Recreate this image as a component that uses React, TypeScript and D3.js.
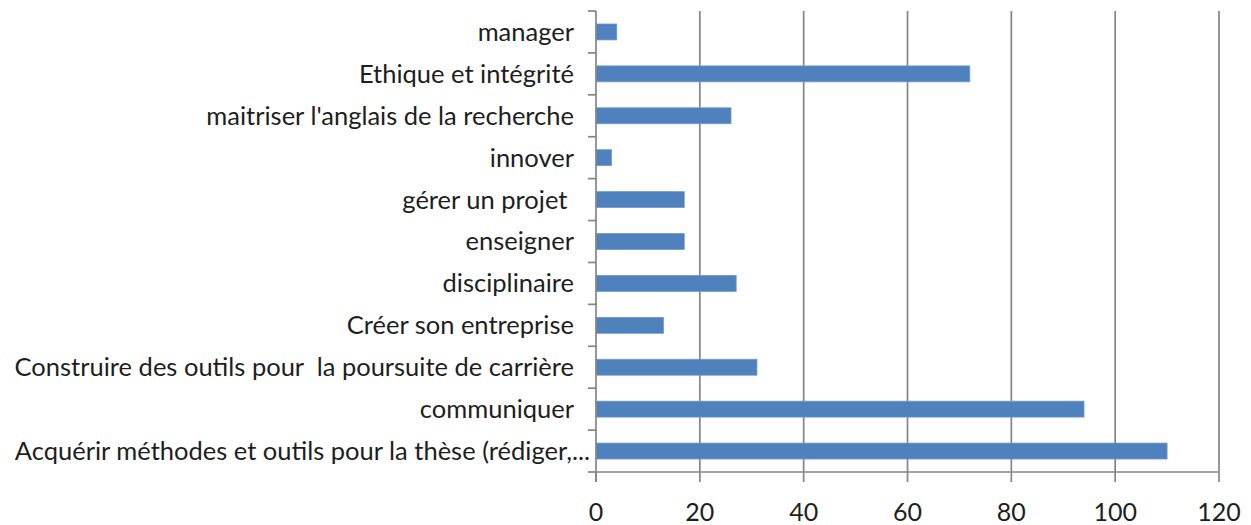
import { scaleBand, scaleLinear } from "d3";

const CATEGORIES = [
  "manager",
  "Ethique et intégrité",
  "maitriser l'anglais de la recherche",
  "innover",
  "gérer un projet ",
  "enseigner",
  "disciplinaire",
  "Créer son entreprise",
  "Construire des outils pour  la poursuite de carrière",
  "communiquer",
  "Acquérir méthodes et outils pour la thèse (rédiger,...",
];
const VALUES = [4, 72, 26, 3, 17, 17, 27, 13, 31, 94, 110];
const X_TICKS = [0, 20, 40, 60, 80, 100, 120];

const WIDTH = 1251;
const HEIGHT = 525;
const LEFT = 596;
const RIGHT = 1219;
const TOP = 11;
const BOTTOM = 472;
const GRID = "#858585";
const FONT = "Lato, 'Open Sans', sans-serif";

export default function App() {
  const x = scaleLinear().domain([0, 120]).range([LEFT, RIGHT]);
  const y = scaleBand<string>()
    .domain(CATEGORIES)
    .range([TOP, BOTTOM])
    .paddingInner(0.62)
    .paddingOuter(0.31);
  const step = y.step();
  const slotEdges = CATEGORIES.map((_, i) => TOP + i * step).concat([BOTTOM]);

  return (
    <>
      <style>{"body{margin:0}"}</style>
      <svg width={WIDTH} height={HEIGHT} style={{ display: "block", background: "#fff" }}>
        {/* vertical gridlines */}
        {X_TICKS.filter((t) => t > 0).map((t) => (
          <line key={`g${t}`} x1={x(t)} x2={x(t)} y1={TOP} y2={BOTTOM} stroke={GRID} strokeWidth={1.7} />
        ))}

        {/* bars */}
        {CATEGORIES.map((c, i) => (
          <rect
            key={c}
            x={x(0)}
            y={y(c)}
            width={x(VALUES[i]) - x(0)}
            height={y.bandwidth()}
            fill="#4f81bd"
            stroke="#6f98cc"
            strokeWidth={0.8}
          />
        ))}

        {/* y axis */}
        <line x1={LEFT} x2={LEFT} y1={TOP} y2={BOTTOM + 10} stroke={GRID} strokeWidth={1.7} />
        {slotEdges.map((v, i) => (
          <line key={`yt${i}`} x1={LEFT - 8} x2={LEFT} y1={v} y2={v} stroke={GRID} strokeWidth={1.7} />
        ))}

        {/* x axis */}
        <line x1={LEFT} x2={RIGHT} y1={BOTTOM} y2={BOTTOM} stroke={GRID} strokeWidth={1.7} />
        {X_TICKS.map((t) => (
          <line key={`xt${t}`} x1={x(t)} x2={x(t)} y1={BOTTOM} y2={BOTTOM + 10} stroke={GRID} strokeWidth={1.7} />
        ))}

        {/* category labels (the long truncated one sits closer to the axis, as in Excel) */}
        {CATEGORIES.map((c, i) => (
          <text
            key={`l${c}`}
            x={i === CATEGORIES.length - 1 ? LEFT - 6 : LEFT - 22}
            y={(y(c) ?? 0) + y.bandwidth() / 2}
            dy="0.35em"
            textAnchor="end"
            fontFamily={FONT}
            fontSize={25.5}
            fill="#1e1e1e"
            style={{ whiteSpace: "pre" }}
          >
            {c}
          </text>
        ))}

        {/* x tick labels */}
        {X_TICKS.map((t) => (
          <text
            key={`xl${t}`}
            x={x(t)}
            y={521}
            textAnchor="middle"
            fontFamily={FONT}
            fontSize={25}
            fill="#1e1e1e"
          >
            {t}
          </text>
        ))}
      </svg>
    </>
  );
}
